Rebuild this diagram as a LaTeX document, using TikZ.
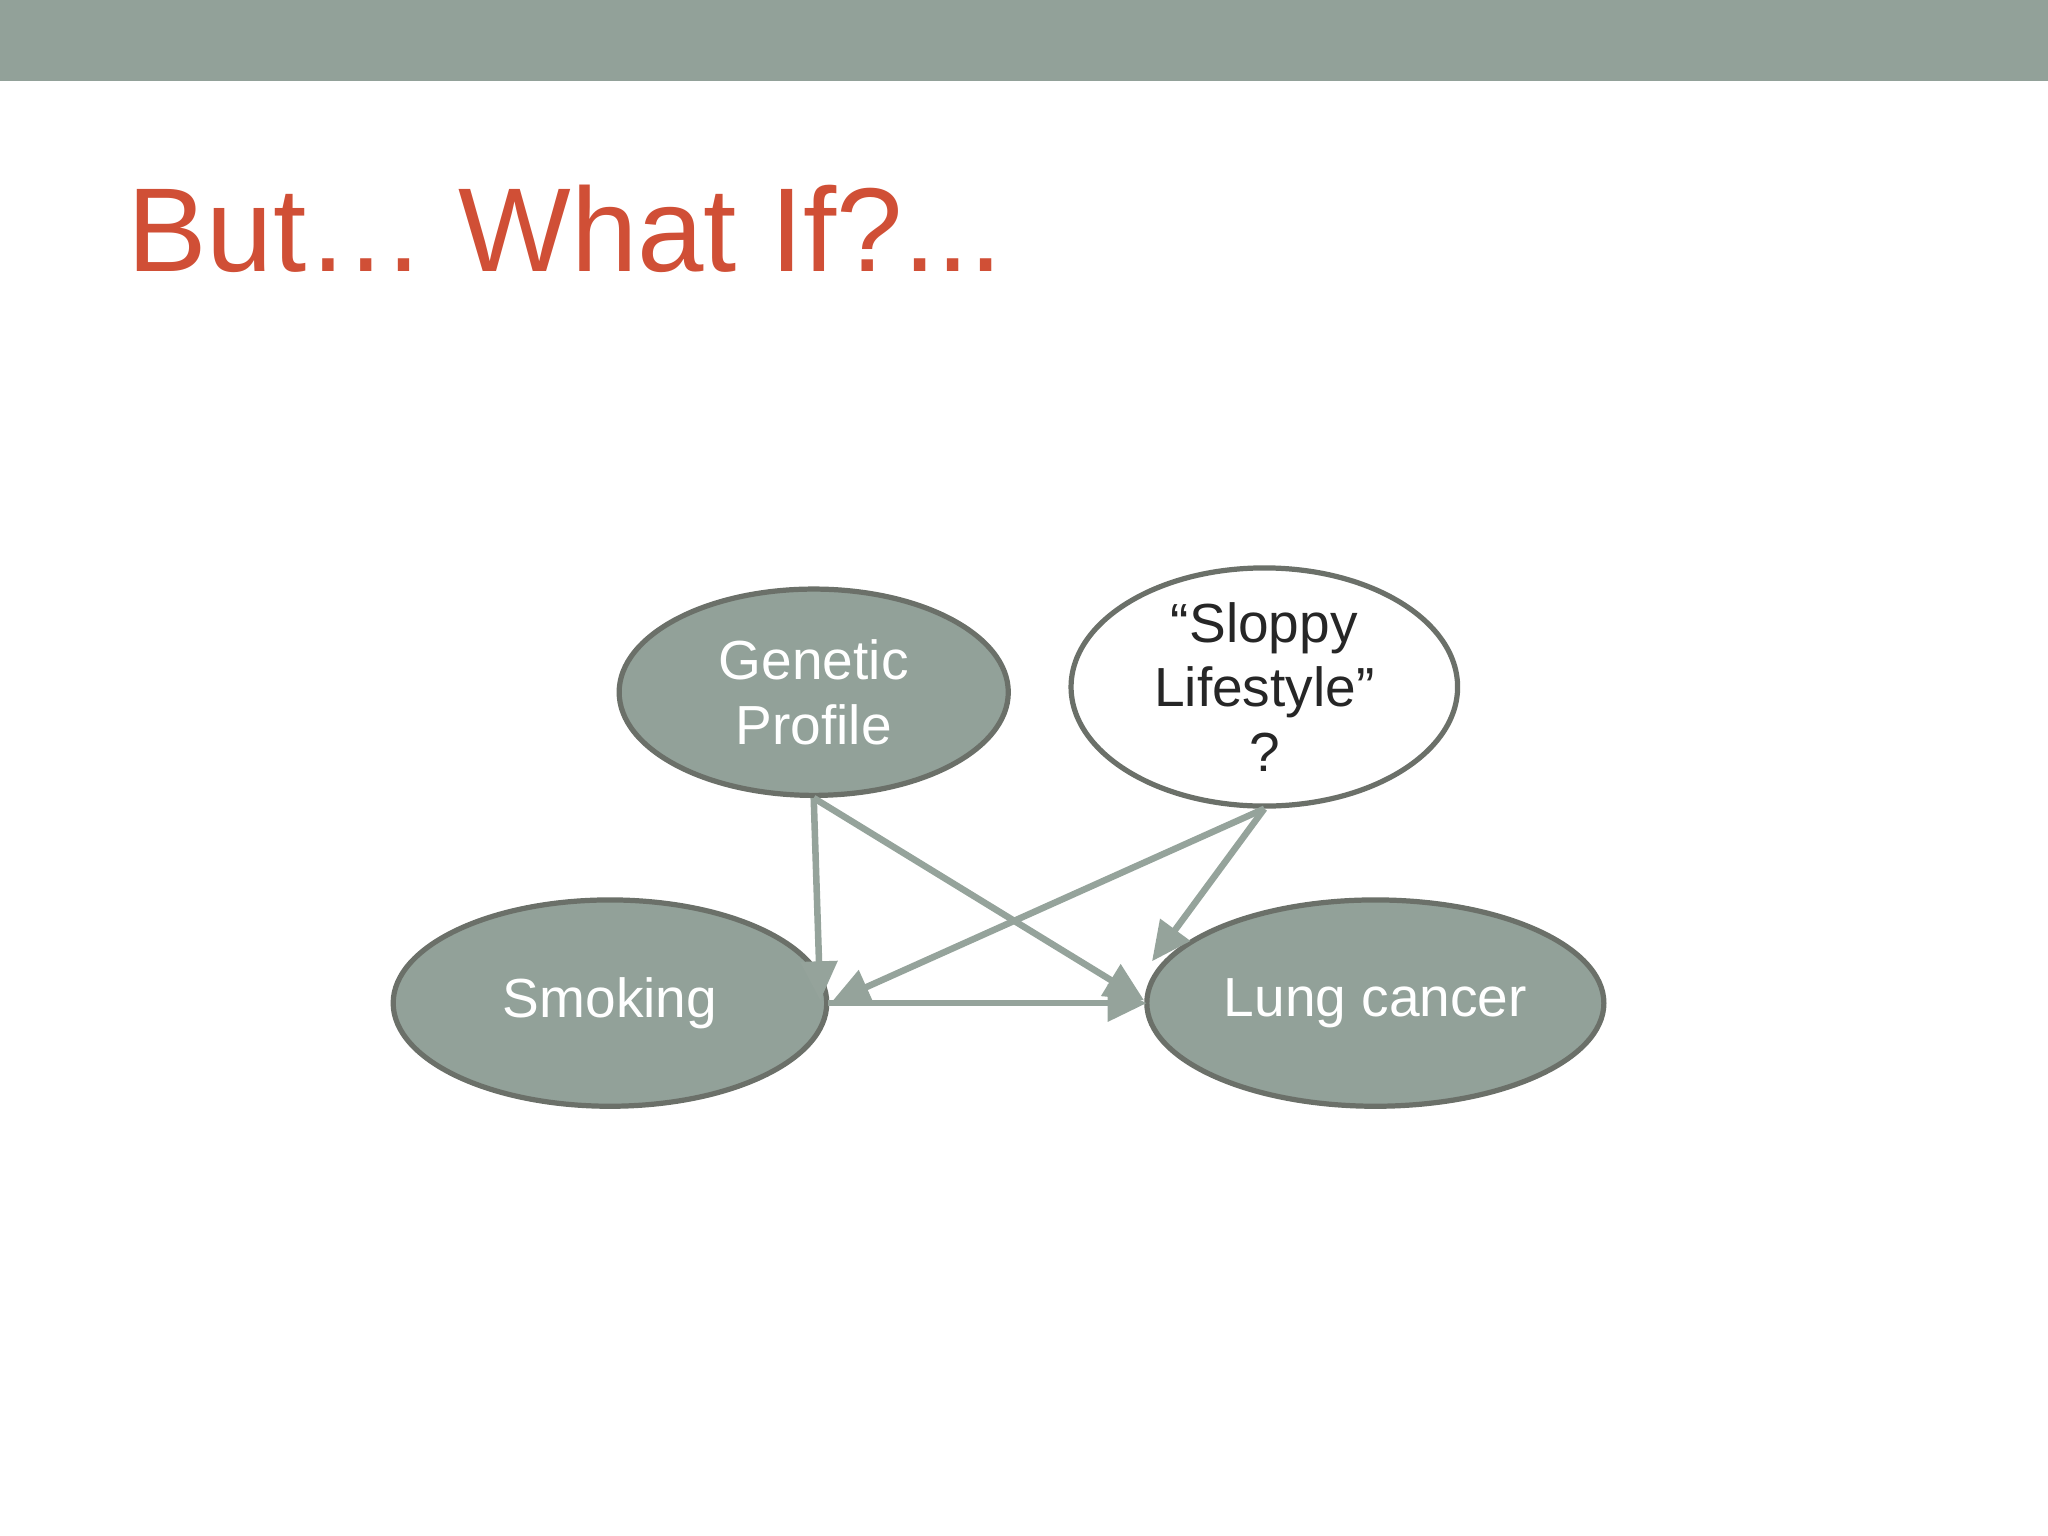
\documentclass[tikz,border=0pt]{standalone}
\usepackage{fontspec}
\setmainfont{Liberation Sans}
\usetikzlibrary{arrows.meta,shapes.geometric}
\definecolor{bar}{HTML}{92A199}
\definecolor{ttl}{HTML}{D04F36}
\definecolor{edge}{HTML}{6B7069}
\definecolor{arr}{HTML}{95A39B}
\tikzset{
 ell/.style={ellipse,draw=edge,line width=0.08cm,fill=bar,text=white,font=\fontsize{24}{28}\selectfont,align=center,inner sep=0pt},
 link/.style={draw=arr,line width=0.1cm,-{Triangle[length=0.6cm,width=0.55cm]}}
}
\begin{document}
\begin{tikzpicture}[x=0.02cm,y=0.02cm]
\useasboundingbox (0,0) rectangle (1568,1176);
\fill[bar] (0,1114) rectangle (1568,1176);
\node[anchor=base west,text=ttl,font=\fontsize{52}{60}\selectfont,inner sep=0] (title) at (97,968) {But… What If?...};
\node[ell,minimum width=298\pgflinewidth*0+5.96cm,minimum height=3.16cm] (gen) at (623,646) {Genetic\\Profile};
\node[ell,fill=white,text=black!85,minimum width=5.92cm,minimum height=3.12cm] (slp) at (968,650) {“Sloppy\\Lifestyle”\\?};
\node[ell,minimum width=6.64cm,minimum height=3.16cm] (smk) at (467,408) {Smoking};
\node[ell,minimum width=7.0cm,minimum height=3.16cm] (lng) at (1053,408) {Lung cancer};
\coordinate (smkA) at (628,410);
\coordinate (smkB) at (636,408);
\coordinate (lngA) at (876,410);
\coordinate (lngB) at (882,440);
\coordinate (smkC) at (634,408);
\coordinate (lngC) at (878,408);
\draw[link] (gen.south) -- (smkA);
\draw[link] (gen.south) -- (lngA);
\draw[link] (slp.south) -- (smkB);
\draw[link] (slp.south) -- (lngB);
\draw[link] (smkC) -- (lngC);
\end{tikzpicture}
\end{document}
